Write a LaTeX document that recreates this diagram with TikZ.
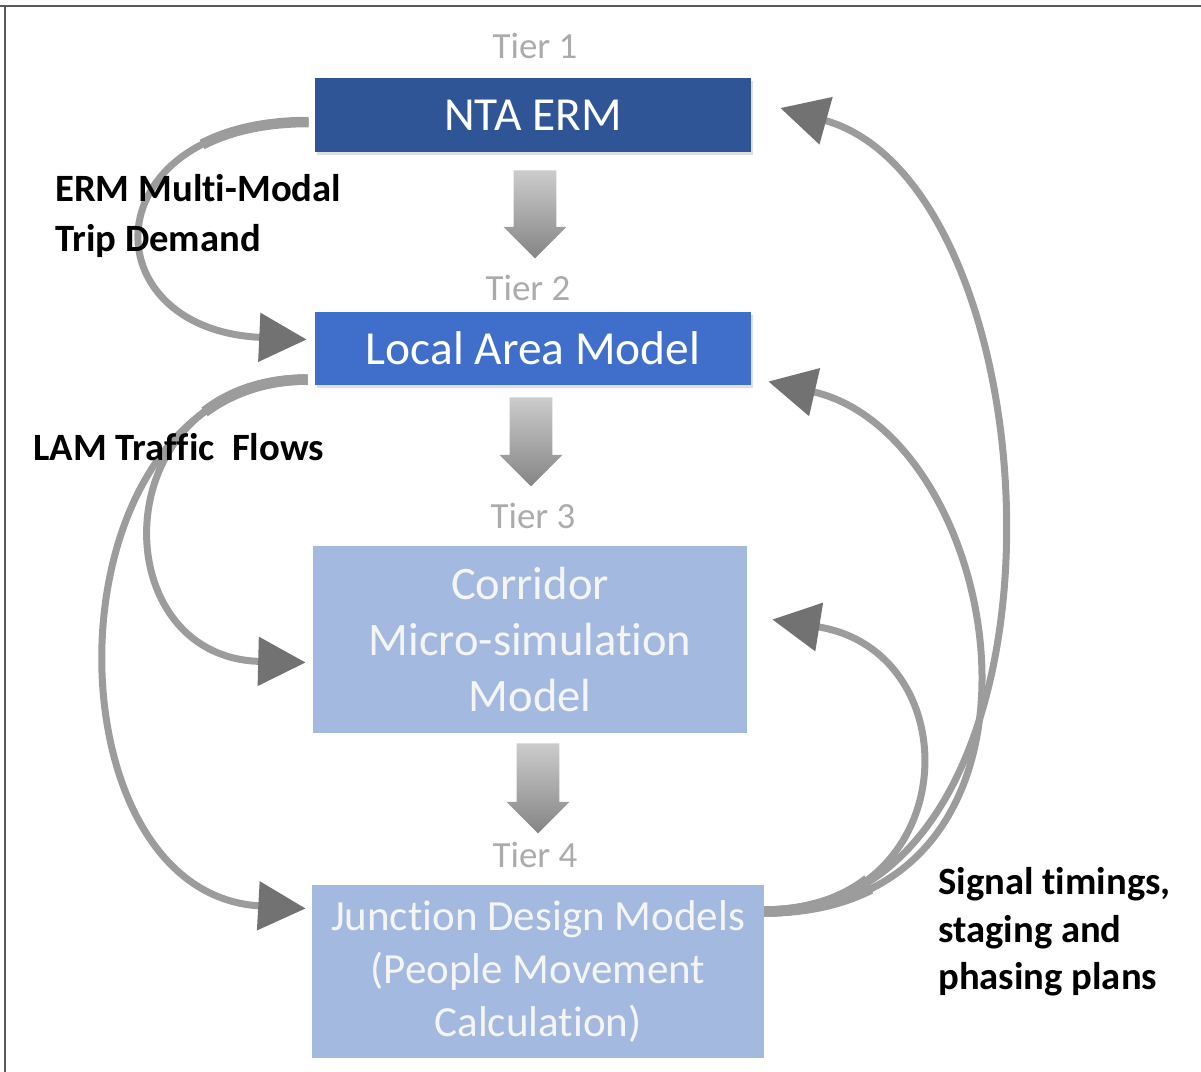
\documentclass[tikz,border=0pt]{standalone}
\usepackage{fontspec}
\setmainfont{Carlito}[Ligatures=NoCommon]
\usetikzlibrary{arrows.meta,shapes.arrows,shadows,calc}

\definecolor{ermblue}{HTML}{2F5597}
\definecolor{lamblue}{HTML}{3F6FCB}
\definecolor{paleblue}{HTML}{A4B9E0}
\definecolor{tiergray}{HTML}{ABABAB}
\definecolor{flowgray}{HTML}{9C9C9C}
\definecolor{headgray}{HTML}{727272}
\definecolor{framegray}{HTML}{5A5A5A}

\tikzset{
  tierbox/.style={rectangle, inner sep=0pt, align=center, text=white},
  tierlabel/.style={text=tiergray, inner sep=0pt, font=\fontsize{21}{24}\selectfont},
  flowlabel/.style={anchor=west, align=left, inner sep=0pt, font=\bfseries\fontsize{22}{28}\selectfont},
  downarrow/.style={single arrow, shape border rotate=270, inner sep=0.42cm,
    single arrow head extend=0.2cm, anchor=tail,
    top color=black!20, bottom color=black!48},
  flow/.style={draw=flowgray, line width=0.14cm,
    -{Triangle[length=0.95cm,width=0.95cm,color=headgray]},
    preaction={draw=flowgray, line width=0.21cm, dash pattern=on 2.2cm off 80cm, arrows=-}}
}

\begin{document}
\begin{tikzpicture}[x=0.02cm, y=-0.02cm]
				% page size and frame
				\useasboundingbox (0,0) rectangle (1201,1072);
				\draw[framegray, line width=0.04cm] (0,6) -- (1201,6);
				\draw[framegray, line width=0.04cm] (5,6) -- (5,1072);
				
				% the four tiers
				\node[tierbox, fill=ermblue, minimum width=8.72cm, minimum height=1.48cm,
				drop shadow={shadow xshift=1pt, shadow yshift=-1.5pt, opacity=0.25},
				font=\fontsize{27}{32}\selectfont] (erm) at (533,115) {NTA ERM};
				\node[tierbox, fill=lamblue, minimum width=8.72cm, minimum height=1.46cm,
				drop shadow={shadow xshift=1pt, shadow yshift=-1.5pt, opacity=0.25},
				font=\fontsize{27}{32}\selectfont] (lam) at (533,348.5) {Local Area Model};
				\node[tierbox, fill=paleblue, minimum width=8.68cm, minimum height=3.74cm,
				text=white!96!black, font=\fontsize{26.5}{32}\selectfont] (cms) at (530,639.5)
				{Corridor\\Micro-simulation\\Model};
				\node[tierbox, fill=paleblue, minimum width=9.04cm, minimum height=3.46cm,
				text=white!96!black, font=\fontsize{24.5}{30}\selectfont] (jdm) at (538,971.5)
				{Junction Design Models\\(People Movement\\Calculation)};
				
				\node[tierlabel] (t1) at (535,46) {Tier 1};
				\node[tierlabel] (t2) at (528,288) {Tier 2};
				\node[tierlabel] (t3) at (533,516) {Tier 3};
				\node[tierlabel] (t4) at (535,855) {Tier 4};
				
				% straight arrows down the tiers
				\node[downarrow, minimum height=1.76cm] (down1) at (535,170) {};
				\node[downarrow, minimum height=1.78cm] (down2) at (531,397) {};
				\node[downarrow, minimum height=1.80cm] (down3) at (538,743) {};
				
				% flows going down on the left
				\draw[flow] ($(erm.west)+(-6,7)$) .. controls +(-218,0) and +(-218,-10) .. ($(lam.west)+(-8,-9)$);
				\draw[flow] ($(lam.west)+(-7,31)$) .. controls +(-205,0) and +(-205,-5) .. ($(cms.west)+(-7,23)$);
				\draw[flow] ($(lam.west)+(-7,31)$) .. controls +(-265,0) and +(-265,-15) .. ($(jdm.west)+(-6,-63)$);
				
				% feedback going up on the right
				\draw[flow] ($(jdm.east)+(0,-60)$) .. controls +(330,0) and +(280,78) .. ($(erm.east)+(29,-7)$);
				\draw[flow] ($(jdm.east)+(0,-60)$) .. controls +(320,0) and +(240,55) .. ($(lam.east)+(17,33)$);
				\draw[flow] ($(jdm.east)+(0,-60)$) .. controls +(200,0) and +(200,32) .. ($(cms.east)+(25,-20)$);
				
				% labels on the flows
				\node[flowlabel] (ermflow) at (55,216) {ERM Multi-Modal\\Trip Demand};
				\node[flowlabel] (lamflow) at (33,447) {LAM Traffic~ Flows};
				\node[flowlabel, font=\bfseries\fontsize{22}{27}\selectfont] (signals) at (938,932)
				{Signal timings,\\staging and\\phasing plans};
				
\end{tikzpicture}
\end{document}
